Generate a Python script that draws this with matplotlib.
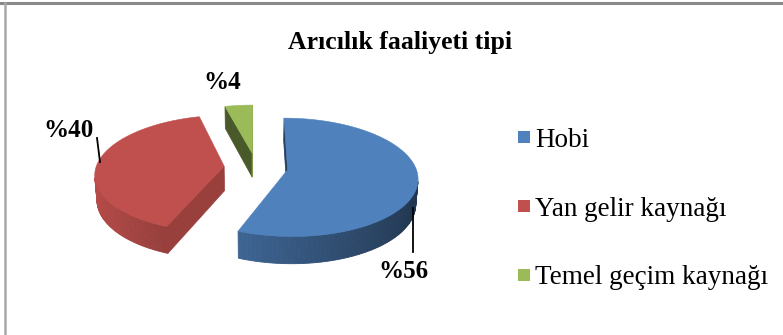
import numpy as np
import matplotlib.pyplot as plt
from matplotlib.patches import Polygon, Rectangle
from matplotlib.lines import Line2D
from matplotlib.colors import to_rgb

# data
title = "Arıcılık faaliyeti tipi"
categories = ["Hobi", "Yan gelir kaynağı", "Temel geçim kaynağı"]
shares = [56, 40, 4]
colors = ["#4F81BD", "#C0504D", "#9BBB59"]

# 3-D pie geometry (pixel space, radius units for the model)
CX, CY, R = 256, 167, 128
ELEV = np.radians(26.7)
CAM_DIST = 7.0
DEPTH = 0.218
EXPLODE = 0.25

plt.rcParams["font.family"] = ["Liberation Serif", "DejaVu Serif"]


def project(X, Z, h):
    """World (X right, Z away, h up) -> pixel coordinates with perspective."""
    X, Z, h = np.broadcast_arrays(np.asarray(X, float), np.asarray(Z, float),
                                  np.asarray(h, float))
    yc = h * np.cos(ELEV) + Z * np.sin(ELEV)
    zc = Z * np.cos(ELEV) - h * np.sin(ELEV)
    s = CAM_DIST / (CAM_DIST + zc)
    return np.column_stack([CX + R * X * s, CY - R * yc * s])


cam = np.array([0.0, -CAM_DIST * np.cos(ELEV), CAM_DIST * np.sin(ELEV)])


def facing(nx, nz, px, pz, ph):
    v = cam - np.array([px, pz, ph])
    return nx * v[0] + nz * v[1] > 0


def shade(color, f):
    return tuple(np.clip(np.array(to_rgb(color)) * f, 0, 1))


fig = plt.figure(figsize=(7.83, 3.35), dpi=100)
ax = fig.add_axes([0, 0, 1, 1])
ax.set_xlim(0, 783)
ax.set_ylim(335, 0)
ax.axis("off")

frac = np.array(shares, float) / sum(shares)
edges = np.concatenate([[0.0], np.cumsum(frac)]) * 360.0

# back-to-front: small slice, left slice, big slice
for i in sorted(range(len(shares)), key=lambda k: -np.cos(np.radians((edges[k] + edges[k + 1]) / 2))):
    t1, t2 = np.radians(edges[i]), np.radians(edges[i + 1])
    mid = (t1 + t2) / 2
    ox, oz = EXPLODE * np.sin(mid), EXPLODE * np.cos(mid)
    base = colors[i]

    # radial cut faces
    for t, (nx, nz) in [(t1, (-np.cos(t1), np.sin(t1))), (t2, (np.cos(t2), -np.sin(t2)))]:
        rx, rz = ox + np.sin(t), oz + np.cos(t)
        if facing(nx, nz, (ox + rx) / 2, (oz + rz) / 2, -DEPTH / 2):
            pts = project([ox, rx, rx, ox], [oz, rz, rz, oz], [0, 0, -DEPTH, -DEPTH])
            c = shade(base, 0.64 + 0.17 * nx)
            ax.add_patch(Polygon(pts, closed=True, facecolor=c, edgecolor=c, lw=0.5))

    # curved outer wall, shaded strip by strip
    ts = np.linspace(t1, t2, max(int(np.degrees(t2 - t1)) + 1, 3))
    for a, b in zip(ts[:-1], ts[1:]):
        tm = (a + b) / 2
        if not facing(np.sin(tm), np.cos(tm), ox + np.sin(tm), oz + np.cos(tm), -DEPTH / 2):
            continue
        xs = ox + np.sin([a, b, b, a])
        zs = oz + np.cos([a, b, b, a])
        pts = project(xs, zs, [0, 0, -DEPTH, -DEPTH])
        c = shade(base, 0.68 - 0.27 * np.sin(tm))
        ax.add_patch(Polygon(pts, closed=True, facecolor=c, edgecolor=c, lw=0.6))

    # top face
    arc = np.linspace(t1, t2, 200)
    xs = np.concatenate([[ox], ox + np.sin(arc)])
    zs = np.concatenate([[oz], oz + np.cos(arc)])
    ax.add_patch(Polygon(project(xs, zs, 0), closed=True, facecolor=base,
                         edgecolor=base, lw=0.4))

# data labels with leader lines
label_pos = [(403, 278), (68, 137), (222, 89)]
for val, (lx, ly) in zip(shares, label_pos):
    ax.text(lx, ly, f"%{val}", ha="center", va="baseline", fontsize=18,
            fontweight="bold", color="black")
ax.add_line(Line2D([413, 413], [208, 252], color="black", lw=1.3))
ax.add_line(Line2D([97, 100], [138, 162], color="black", lw=1.3))

# title
ax.text(400, 48.5, title, ha="center", va="baseline", fontsize=18.5,
        fontweight="bold", color="black")

# legend
for k, (name, col) in enumerate(zip(categories, colors)):
    base_y = 146.7 + k * 68.8
    ax.add_patch(Rectangle((518, base_y - 15.5), 12, 12, facecolor=col, edgecolor="none"))
    ax.text(535, base_y, name, ha="left", va="baseline", fontsize=19.5, color="black")

# chart frame
fig.add_artist(Line2D([0, 1], [1 - 3 / 335, 1 - 3 / 335], transform=fig.transFigure,
                      color="#8a8a8a", lw=2.2))
fig.add_artist(Line2D([4.5 / 783, 4.5 / 783], [0, 1 - 3 / 335], transform=fig.transFigure,
                      color="#a8a8a8", lw=1.8))

fig.savefig("out.png", dpi=100, facecolor="white")
